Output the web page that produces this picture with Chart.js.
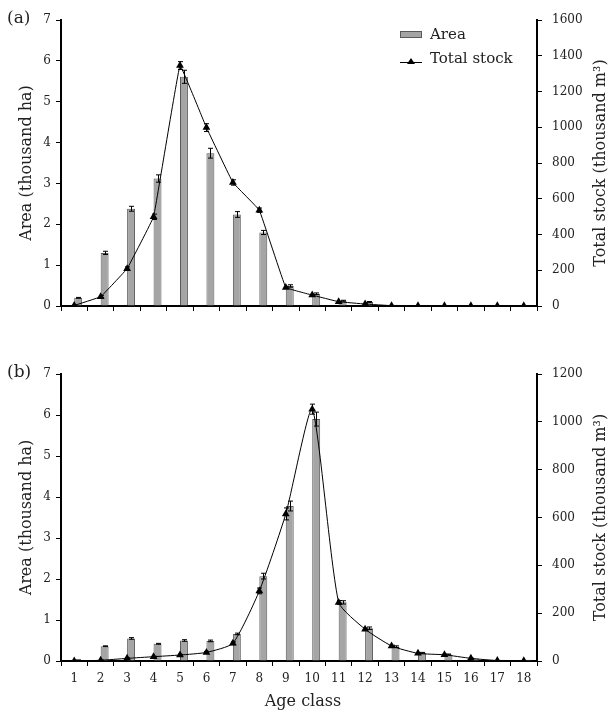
<!DOCTYPE html>
<html>
<head>
<meta charset="utf-8">
<script src="https://cdn.jsdelivr.net/npm/chart.js@4.4.0/dist/chart.umd.min.js"></script>
<style>
  body { margin: 0; background: #fff; }
  #wrap { position: relative; width: 611px; height: 713px; }
  canvas { position: absolute; left: 0; }
  #chartA { top: 0; }
  #chartB { top: 340px; }
</style>
</head>
<body>
<div id="wrap">
  <canvas id="chartA" width="611" height="340"></canvas>
  <canvas id="chartB" width="611" height="373"></canvas>
</div>
<script>
// Age classes on the x axis
const ageClasses = ['1', '2', '3', '4', '5', '6', '7', '8', '9', '10', '11', '12', '13', '14', '15', '16', '17', '18'];

// Panel (a)
const areaA = [0.20, 1.30, 2.38, 3.12, 5.61, 3.74, 2.24, 1.80, 0.49, 0.30, 0.13, 0.10, 0.03, 0.01, 0.01, 0.01, 0.01, 0.01];
const areaErrA = [0.01, 0.04, 0.06, 0.09, 0.16, 0.12, 0.07, 0.05, 0.03, 0.02, 0.01, 0.01, 0, 0, 0, 0, 0, 0];
const stockA = [3, 52, 209, 499, 1345, 998, 691, 536, 104, 61, 24, 11, 2, 1, 1, 1, 1, 1];
const stockErrA = [2, 6, 10, 15, 22, 22, 15, 12, 6, 4, 2, 1, 0, 0, 0, 0, 0, 0];
const stockTicksA = [0, 200, 400, 600, 800, 1000, 1200, 1400, 1600];

// Panel (b)
const areaB = [0.02, 0.36, 0.55, 0.42, 0.50, 0.49, 0.66, 2.07, 3.78, 5.90, 1.43, 0.80, 0.35, 0.20, 0.16, 0.06, 0.03, 0.03];
const areaErrB = [0.005, 0.01, 0.02, 0.01, 0.02, 0.02, 0.02, 0.07, 0.12, 0.17, 0.04, 0.03, 0.02, 0.01, 0.01, 0, 0, 0];
const stockB = [0, 3, 11, 18, 25, 36, 74, 293, 615, 1053, 245, 133, 63, 32, 26, 11, 2, 1];
const stockErrB = [0, 1, 2, 2, 3, 4, 6, 12, 25, 21, 8, 5, 3, 2, 2, 1, 0, 0];
const stockTicksB = [0, 200, 400, 600, 800, 1000, 1200];

const areaTicks = [0, 1, 2, 3, 4, 5, 6, 7];

const FONT = '"DejaVu Serif", serif';
const BAR_FILL = '#a5a5a5';
const BAR_EDGE = '#5a5a5a';

Chart.defaults.font.family = FONT;
Chart.defaults.color = '#222';

// Draws the error bars of every dataset that carries an "errors" array
const errorBarPlugin = {
  id: 'errorBars',
  afterDatasetsDraw(chart) {
    const ctx = chart.ctx;
    chart.data.datasets.forEach((ds, i) => {
      if (!ds.errors) return;
      const meta = chart.getDatasetMeta(i);
      const scale = chart.scales[ds.yAxisID];
      ctx.save();
      ctx.strokeStyle = '#000';
      ctx.lineWidth = 1;
      meta.data.forEach((el, j) => {
        const v = ds.data[j];
        const e = ds.errors[j];
        if (v == null || !e) return;
        const yHi = scale.getPixelForValue(v + e);
        const yLo = scale.getPixelForValue(Math.max(v - e, 0));
        const x = Math.round(el.x) + 0.5;
        ctx.beginPath();
        ctx.moveTo(x, yHi); ctx.lineTo(x, yLo);
        ctx.moveTo(x - 2.5, yHi); ctx.lineTo(x + 2.5, yHi);
        ctx.moveTo(x - 2.5, yLo); ctx.lineTo(x + 2.5, yLo);
        ctx.stroke();
      });
      ctx.restore();
    });
  }
};

// Axis titles, panel letter and (optionally) the legend
function textPlugin(panel, withXTitle, withLegend) {
  return {
    id: 'texts',
    afterDraw(chart) {
      const ctx = chart.ctx;
      const area = chart.chartArea;
      const midY = (area.top + area.bottom) / 2;
      ctx.save();
      ctx.fillStyle = '#222';
      ctx.textBaseline = 'middle';

      // panel letter
      ctx.font = '17px ' + FONT;
      ctx.textAlign = 'left';
      ctx.fillText(panel, 7, area.top - 1);

      // left title
      ctx.font = '16px ' + FONT;
      ctx.textAlign = 'center';
      ctx.save();
      ctx.translate(27, midY);
      ctx.rotate(-Math.PI / 2);
      ctx.fillText('Area (thousand ha)', 0, 0);
      ctx.restore();

      // right title
      ctx.save();
      ctx.translate(601, midY);
      ctx.rotate(-Math.PI / 2);
      ctx.fillText('Total stock (thousand m³)', 0, 0);
      ctx.restore();

      if (withXTitle) {
        ctx.fillText('Age class', (area.left + area.right) / 2 + 4, 362);
      }

      if (withLegend) {
        // Area swatch
        ctx.fillStyle = BAR_FILL;
        ctx.fillRect(400, 31, 22, 7);
        ctx.strokeStyle = BAR_EDGE;
        ctx.lineWidth = 1;
        ctx.strokeRect(400.5, 31.5, 21, 6);
        // Total stock line with marker
        ctx.strokeStyle = '#000';
        ctx.beginPath();
        ctx.moveTo(400, 62.5);
        ctx.lineTo(422, 62.5);
        ctx.stroke();
        ctx.fillStyle = '#000';
        ctx.beginPath();
        ctx.moveTo(411, 58);
        ctx.lineTo(415, 64);
        ctx.lineTo(407, 64);
        ctx.closePath();
        ctx.fill();
        ctx.fillStyle = '#222';
        ctx.font = '15px ' + FONT;
        ctx.textAlign = 'left';
        ctx.fillText('Area', 430, 35);
        ctx.fillText('Total stock', 430, 59);
      }
      ctx.restore();
    }
  };
}

function makePanel(canvasId, cfg) {
  const axisBorder = { display: true, color: '#000', width: 2 };
  const tickGrid = { drawOnChartArea: false, drawTicks: true, tickLength: 5, color: '#000', lineWidth: 1 };

  const ctx = document.getElementById(canvasId).getContext('2d');
  return new Chart(ctx, {
    type: 'bar',
    data: {
      labels: ageClasses,
      datasets: [
        {
          // empty slot so the bars sit right of the category centre
          label: '',
          data: ageClasses.map(() => null),
          yAxisID: 'yArea',
          order: 1,
        },
        {
          label: 'Area',
          data: cfg.area,
          errors: cfg.areaErr,
          backgroundColor: BAR_FILL,
          borderColor: BAR_EDGE,
          borderWidth: 1,
          yAxisID: 'yArea',
          order: 1,
        },
        {
          type: 'line',
          label: 'Total stock',
          data: cfg.stock,
          errors: cfg.stockErr,
          borderColor: '#000',
          borderWidth: 1,
          backgroundColor: '#000',
          pointStyle: 'triangle',
          pointRadius: 4.5,
          pointBorderWidth: 0,
          tension: cfg.tension,
          yAxisID: 'yStock',
          order: 0,
        },
      ],
    },
    options: {
      responsive: false,
      animation: false,
      categoryPercentage: 0.6,
      barPercentage: 1.0,
      layout: { padding: { top: cfg.plotTop, left: 0, right: 0, bottom: 0 } },
      plugins: { legend: { display: false }, tooltip: { enabled: false } },
      scales: {
        x: {
          offset: true,
          grid: Object.assign({ offset: true }, tickGrid),
          border: axisBorder,
          ticks: { display: cfg.showX, autoSkip: false, maxRotation: 0, padding: 6, font: { size: 12 } },
          afterFit: s => { s.height = cfg.xHeight; },
        },
        yArea: {
          position: 'left',
          min: 0,
          max: 7,
          afterBuildTicks: s => { s.ticks = areaTicks.map(v => ({ value: v })); },
          ticks: { padding: 5, font: { size: 12 }, callback: v => String(v) },
          grid: tickGrid,
          border: axisBorder,
          afterFit: s => { s.width = 61; },
        },
        yStock: {
          position: 'right',
          min: 0,
          max: cfg.stockTicks[cfg.stockTicks.length - 1],
          afterBuildTicks: s => { s.ticks = cfg.stockTicks.map(v => ({ value: v })); },
          ticks: { padding: 10, font: { size: 12 }, callback: v => String(v) },
          grid: tickGrid,
          border: axisBorder,
          afterFit: s => { s.width = 74; },
        },
      },
    },
    plugins: [errorBarPlugin, textPlugin(cfg.panel, cfg.showX, cfg.legend)],
  });
}

makePanel('chartA', {
  area: areaA, areaErr: areaErrA, stock: stockA, stockErr: stockErrA, stockTicks: stockTicksA,
  panel: '(a)', showX: false, legend: true, tension: 0.05, plotTop: 20, xHeight: 34,
});

makePanel('chartB', {
  area: areaB, areaErr: areaErrB, stock: stockB, stockErr: stockErrB, stockTicks: stockTicksB,
  panel: '(b)', showX: true, legend: false, tension: 0.18, plotTop: 34, xHeight: 52,
});
</script>
</body>
</html>
